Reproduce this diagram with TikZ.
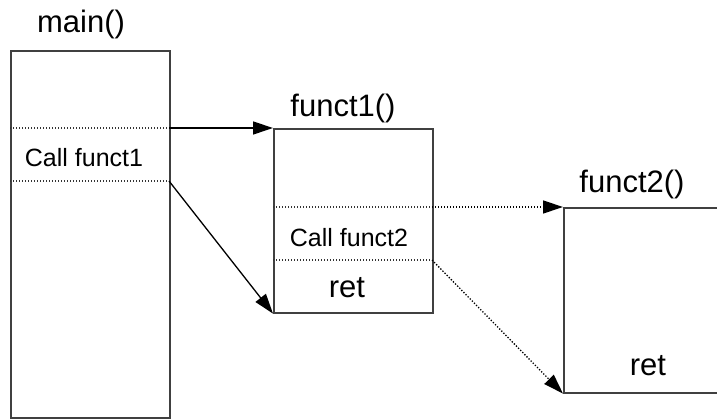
\documentclass[tikz,border=0pt]{standalone}
\usepackage{fontspec}
\setmainfont{Liberation Sans}
\usetikzlibrary{arrows.meta}

\begin{document}
\begin{tikzpicture}[x=1pt,y=-1pt,
    frame/.style={draw=black!75, line width=1.6pt, inner sep=0pt, anchor=north west},
    divider/.style={draw=black!80, line width=1.3pt, dash pattern=on 1.3pt off 1.7pt},
    callarrow/.style={line width=1.3pt, -{Triangle[length=20pt,width=13pt]}},
    title/.style={font=\fontsize{31}{35}\selectfont, anchor=base},
    calltext/.style={font=\fontsize{25}{29}\selectfont, anchor=base},
    rettext/.style={font=\fontsize{31}{35}\selectfont, anchor=base}]
  \useasboundingbox (0,0) rectangle (717,419);
  \clip (0,0) rectangle (717,419);
  % stack frames
  \node[frame, minimum width=159pt, minimum height=367pt] (main) at (10,50) {};
  \node[frame, minimum width=159pt, minimum height=184pt] (f1) at (273,128) {};
  \node[frame, minimum width=220pt, minimum height=185pt] (f2) at (563,207) {};
  % frame titles
  \node[title] (mainT) at (81,33) {main()};
  \node[title] (f1T) at (343,117) {funct1()};
  \node[title] (f2T) at (632,193) {funct2()};
  % call / return slots
  \coordinate (mainAL) at (10,128);  \coordinate (mainAR) at (169,128);
  \coordinate (mainBL) at (10,181);  \coordinate (mainBR) at (169,181);
  \coordinate (f1AL) at (273,207);   \coordinate (f1AR) at (432,207);
  \coordinate (f1BL) at (273,260);   \coordinate (f1BR) at (432,260);
  \draw[divider] (mainAL) -- (mainAR);
  \draw[divider] (mainBL) -- (mainBR);
  \draw[divider] (f1AL) -- (f1AR);
  \draw[divider] (f1BL) -- (f1BR);
  \node[calltext] (call1) at (84,167) {Call funct1};
  \node[calltext] (call2) at (349,247) {Call funct2};
  \node[rettext] (ret1) at (347,298) {ret};
  \node[rettext] (ret2) at (648,375) {ret};
  % control flow
  \draw[callarrow] (mainAR) -- (f1.north west);
  \draw[callarrow] (mainBR) -- (f1.south west);
  \draw[callarrow, dash pattern=on 1.3pt off 1.7pt] (f1AR) -- (f2.north west);
  \draw[callarrow, dash pattern=on 1.3pt off 1.7pt] (f1BR) -- (f2.south west);
\end{tikzpicture}
\end{document}
